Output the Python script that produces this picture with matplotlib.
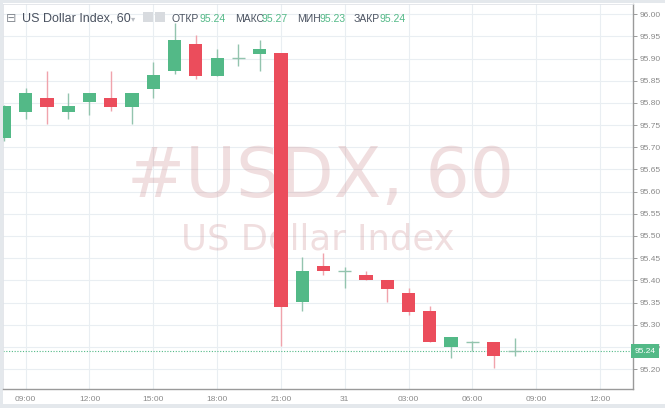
import matplotlib.pyplot as plt
import matplotlib.patches as mpatches
from matplotlib.transforms import blended_transform_factory

# hourly candles, x = hours counted from 00:00 of the 30th
hours = list(range(8, 33))
opens = [95.720, 95.780, 95.812, 95.780, 95.801, 95.812, 95.790, 95.831, 95.872, 95.932,
         95.861, 95.902, 95.911, 95.912, 95.351, 95.432, 95.421, 95.411, 95.401, 95.372,
         95.331, 95.250, 95.262, 95.262, 95.240]
closes = [95.792, 95.822, 95.790, 95.792, 95.822, 95.790, 95.822, 95.862, 95.941, 95.861,
          95.902, 95.902, 95.922, 95.341, 95.421, 95.420, 95.421, 95.400, 95.380, 95.329,
          95.260, 95.272, 95.262, 95.230, 95.240]
highs = [95.795, 95.833, 95.873, 95.822, 95.823, 95.873, 95.823, 95.892, 95.980, 95.952,
         95.921, 95.932, 95.942, 95.913, 95.452, 95.461, 95.431, 95.422, 95.401, 95.382,
         95.342, 95.272, 95.264, 95.262, 95.270]
lows = [95.715, 95.763, 95.753, 95.763, 95.773, 95.782, 95.753, 95.812, 95.865, 95.853,
        95.860, 95.883, 95.873, 95.252, 95.331, 95.412, 95.382, 95.400, 95.352, 95.322,
        95.260, 95.224, 95.241, 95.202, 95.230]

xtick_pos = [9, 12, 15, 18, 21, 24, 27, 30, 33, 36]
xtick_labels = ['09:00', '12:00', '15:00', '18:00', '21:00', '31', '03:00', '06:00', '09:00', '12:00']
ytick_pos = [95.20, 95.25, 95.30, 95.35, 95.40, 95.45, 95.50, 95.55, 95.60, 95.65,
             95.70, 95.75, 95.80, 95.85, 95.90, 95.95, 96.00]
last_price = 95.24

GREEN = '#53b987'
RED = '#eb4d5c'
GREEN_WICK = '#93c4ae'
RED_WICK = '#f0a3ac'
W, H = 665, 408

plt.rcParams['font.family'] = ['Liberation Sans', 'DejaVu Sans']

fig = plt.figure(figsize=(W / 100, H / 100), dpi=100, facecolor='#e4e8ec')
# white chart panel
fig.add_artist(mpatches.Rectangle((3 / W, 1 - 404 / H), 1, (404 - 3) / H,
                                  transform=fig.transFigure, fc='white', ec='none', zorder=-5))

ax = fig.add_axes([3 / W, 1 - 389 / H, (632.7 - 3) / W, (389 - 4) / H])
ax.set_xlim(7.933, 37.54)
ax.set_ylim(95.155, 96.023)

ax.set_xticks(xtick_pos)
ax.set_xticklabels(xtick_labels)
ax.set_yticks(ytick_pos)
ax.set_yticklabels([f'{v:.2f}' for v in ytick_pos])
ax.yaxis.tick_right()
ax.tick_params(axis='both', labelsize=6, colors='#8a8a8a', length=3, width=0.6, pad=2)
ax.tick_params(axis='x', length=0, pad=5)
ax.grid(True, color='#e9eef2', lw=0.8, zorder=0)
ax.set_axisbelow(True)
for s in ['left', 'top']:
    ax.spines[s].set_color('#e0e3e8')
    ax.spines[s].set_linewidth(0.6)
for s in ['right', 'bottom']:
    ax.spines[s].set_color('#9a9a9a')
    ax.spines[s].set_linewidth(1.0)

# watermark
ax.text(0.505, 1 - (196.7 - 4) / 385, '#USDX, 60', transform=ax.transAxes, ha='center',
        va='baseline', fontsize=50, color='#c98589', alpha=0.27, zorder=1,
        family=['DejaVu Sans'])
ax.text(0.5, 1 - (249 - 4) / 385, 'US Dollar Index', transform=ax.transAxes, ha='center',
        va='baseline', fontsize=25.5, color='#c98589', alpha=0.27, zorder=1,
        family=['DejaVu Sans'])

# candles
bw = 0.62
for x, o, c, hi, lo in zip(hours, opens, closes, highs, lows):
    up = c >= o
    col = GREEN if up else RED
    ax.vlines(x, lo, hi, color=GREEN_WICK if up else RED_WICK, lw=1.0, zorder=3)
    if abs(c - o) < 1e-6:
        ax.hlines(o, x - bw / 2, x + bw / 2, color=GREEN_WICK, lw=1.0, zorder=3)
    else:
        ax.bar(x, abs(c - o), bottom=min(o, c), width=bw, color=col, zorder=4)

# last price line + label
ax.axhline(last_price, color=GREEN, ls=(0, (1, 1.5)), lw=0.8, zorder=2)
tr = blended_transform_factory(ax.transAxes, ax.transData)
ax.text(1.003, last_price, f'{last_price:.2f}', transform=tr, ha='left', va='center',
        fontsize=6, color='white', zorder=10, clip_on=False,
        bbox=dict(boxstyle='square,pad=0.4', fc=GREEN, ec='none'))

# header
def px(x, y):
    return x / W, 1 - y / H

fig.text(*px(6, 21.5), '\u229f', fontsize=9, color='#8a8f96', family=['DejaVu Sans'], va='baseline')
fig.text(*px(21.7, 21.5), 'US Dollar Index, 60', fontsize=9, color='#4a5260', va='baseline')
fig.text(*px(131, 21.5), '\u25be', fontsize=6, color='#b8bcc2', family=['DejaVu Sans'], va='baseline')
for x0 in [143, 155]:
    fig.add_artist(mpatches.Rectangle(px(x0, 22), 10 / W, 10 / H, transform=fig.transFigure,
                                      fc='#d8dbdf', ec='none', zorder=5))
fig.text(*px(172, 21.5), 'ОТКР', fontsize=7.5, color='#4a5260', va='baseline')
fig.text(*px(200, 21.5), '95.24', fontsize=7.5, color=GREEN, va='baseline')
fig.text(*px(235, 21.5), 'МАКС', fontsize=7.5, color='#4a5260', va='baseline')
fig.text(*px(262, 21.5), '95.27', fontsize=7.5, color=GREEN, va='baseline')
fig.text(*px(297, 21.5), 'МИН', fontsize=7.5, color='#4a5260', va='baseline')
fig.text(*px(319, 21.5), '95.23', fontsize=7.5, color=GREEN, va='baseline')
fig.text(*px(354, 21.5), 'ЗАКР', fontsize=7.5, color='#4a5260', va='baseline')
fig.text(*px(380, 21.5), '95.24', fontsize=7.5, color=GREEN, va='baseline')

fig.savefig('out.png', dpi=100, facecolor=fig.get_facecolor())
